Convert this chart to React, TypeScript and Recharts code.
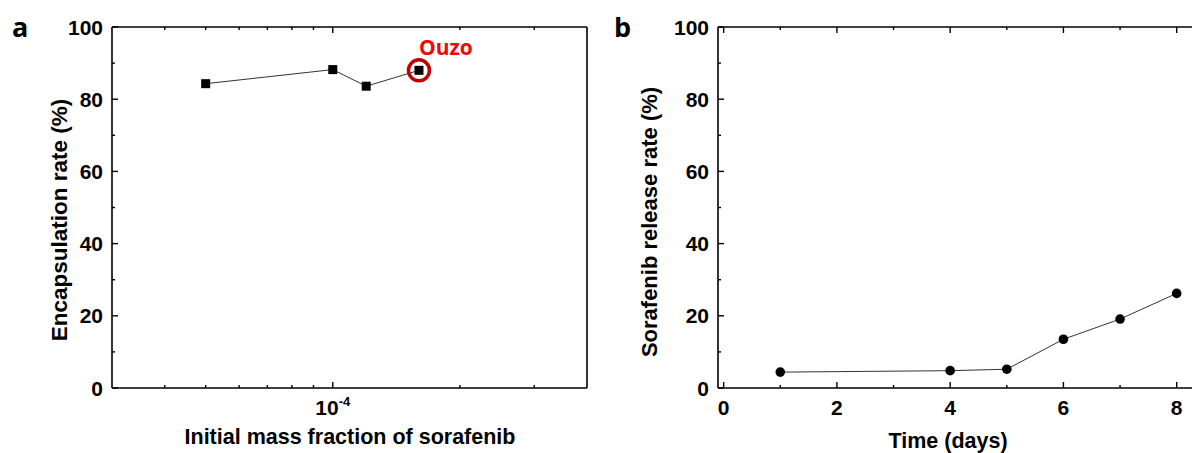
import React from "react";
import { LineChart, Line, XAxis, YAxis, ReferenceDot } from "recharts";

// panel a: encapsulation vs initial mass fraction (log x)
const massFraction = [5e-5, 1e-4, 1.2e-4, 1.6e-4];
const encapsulation = [84.3, 88.2, 83.6, 88.0];

// panel b: release over time
const days = [1, 4, 5, 6, 7, 8];
const release = [4.4, 4.8, 5.2, 13.5, 19.1, 26.2];

const massTicks = [4e-5, 5e-5, 6e-5, 7e-5, 8e-5, 9e-5, 1e-4, 2e-4, 3e-4];
const pctTicks = [0, 10, 20, 30, 40, 50, 60, 70, 80, 90, 100];
const dayTicks = [0, 1, 2, 3, 4, 5, 6, 7, 8];

const dataA = massFraction.map((x, i) => ({ x, y: encapsulation[i] }));
const dataB = days.map((x, i) => ({ x, y: release[i] }));

const FONT = "'Liberation Sans', Arial, sans-serif";
const AXIS = { stroke: "#000", strokeWidth: 1.6 };

type Side = "left" | "right" | "top" | "bottom";

function tickFn(side: Side, isMajor: (v: number) => boolean, label?: (v: number) => React.ReactNode) {
  return (props: any) => {
    const { x, y, payload } = props;
    const v = payload.value;
    const len = isMajor(v) ? 6 : 3;
    let line;
    if (side === "left") line = <line x1={x} x2={x + len} y1={y} y2={y} />;
    else if (side === "right") line = <line x1={x} x2={x - len} y1={y} y2={y} />;
    else if (side === "bottom") line = <line x1={x} x2={x} y1={y} y2={y - len} />;
    else line = <line x1={x} x2={x} y1={y} y2={y + len} />;
    let text: React.ReactNode = null;
    if (label && isMajor(v)) {
      if (side === "left")
        text = (
          <text x={x - 9} y={y + 7.5} textAnchor="end" fontSize={21} fontWeight="bold" fontFamily={FONT} fill="#000">
            {label(v)}
          </text>
        );
      else
        text = (
          <text x={x} y={y + 27} textAnchor="middle" fontSize={21} fontWeight="bold" fontFamily={FONT} fill="#000">
            {label(v)}
          </text>
        );
    }
    return (
      <g>
        <g stroke="#000" strokeWidth={1.4}>{line}</g>
        {text}
      </g>
    );
  };
}

const pctMajor = (v: number) => v % 20 === 0;
const massMajor = (v: number) => Math.abs(v - 1e-4) < 1e-9;
const dayMajor = (v: number) => v % 2 === 0;

const squareDot = (p: any) => (
  <rect key={`sq-${p.index}`} x={p.cx - 4.5} y={p.cy - 4.5} width={9} height={9} fill="#000" />
);

const ouzoShape = (p: any) => (
  <g>
    <circle cx={p.cx} cy={p.cy} r={10.5} fill="none" stroke="#C00000" strokeWidth={3.5} />
    <text x={p.cx} y={p.cy - 15} fontSize={21} fontWeight="bold" fontFamily="'Open Sans', sans-serif" fill="#FF0000">
      Ouzo
    </text>
  </g>
);

const bold = { fontFamily: FONT, fontWeight: "bold" as const, fill: "#000" };

const frameX = { height: 1, tickSize: 0, tickMargin: 0, tickLine: false, axisLine: AXIS, interval: 0 as const, allowDataOverflow: true };
const frameY = { width: 1, tickSize: 0, tickMargin: 0, tickLine: false, axisLine: AXIS, interval: 0 as const };

export default function App() {
  return (
    <div style={{ position: "absolute", left: 0, top: 0, width: 1192, height: 453, overflow: "hidden", background: "#fff" }}>
      <div style={{ position: "absolute", left: 0, top: 0 }}>
        <LineChart width={600} height={453} data={dataA} margin={{ top: 26, left: 111, right: 12, bottom: 64 }}>
          <XAxis
            {...frameX}
            dataKey="x"
            type="number"
            scale="log"
            domain={[3e-5, 4e-4]}
            ticks={massTicks}
            tick={tickFn("bottom", massMajor, () => (
              <>
                10<tspan dy={-9} fontSize={13}>-4</tspan>
              </>
            ))}
          />
          <XAxis
            {...frameX}
            xAxisId="top"
            orientation="top"
            dataKey="x"
            type="number"
            scale="log"
            domain={[3e-5, 4e-4]}
            ticks={massTicks}
            tick={tickFn("top", massMajor)}
          />
          <YAxis {...frameY} domain={[0, 100]} ticks={pctTicks} tick={tickFn("left", pctMajor, (v) => v)} />
          <YAxis
            {...frameY}
            yAxisId="right"
            orientation="right"
            domain={[0, 100]}
            ticks={pctTicks}
            tick={tickFn("right", pctMajor)}
          />
          <Line
            dataKey="y"
            stroke="#333"
            strokeWidth={1}
            dot={squareDot}
            activeDot={false}
            isAnimationActive={false}
          />
          <ReferenceDot x={massFraction[3]} y={encapsulation[3]} r={10} shape={ouzoShape} />
        </LineChart>
      </div>
      <div style={{ position: "absolute", left: 600, top: 0 }}>
        <LineChart width={610} height={453} data={dataB} margin={{ top: 26, left: 117, right: 5, bottom: 64 }}>
          <XAxis
            {...frameX}
            dataKey="x"
            type="number"
            domain={[-0.1, 8.5]}
            ticks={dayTicks}
            tick={tickFn("bottom", dayMajor, (v) => v)}
          />
          <XAxis
            {...frameX}
            xAxisId="top"
            orientation="top"
            dataKey="x"
            type="number"
            domain={[-0.1, 8.5]}
            ticks={dayTicks}
            tick={tickFn("top", dayMajor)}
          />
          <YAxis {...frameY} domain={[0, 100]} ticks={pctTicks} tick={tickFn("left", pctMajor, (v) => v)} />
          <Line
            dataKey="y"
            stroke="#333"
            strokeWidth={1}
            dot={{ r: 4.8, fill: "#000", stroke: "#000", strokeWidth: 0 }}
            activeDot={false}
            isAnimationActive={false}
          />
        </LineChart>
      </div>
      <svg width={1192} height={453} style={{ position: "absolute", left: 0, top: 0, pointerEvents: "none" }}>
        <text x={12} y={37} fontSize={27} fontWeight="bold" fontFamily="'Open Sans', sans-serif">a</text>
        <text x={614} y={37} fontSize={27} fontWeight="bold" fontFamily="'Open Sans', sans-serif">b</text>
        <text transform="translate(67,220) rotate(-90)" textAnchor="middle" fontSize={22.5} {...bold}>
          Encapsulation rate (%)
        </text>
        <text x={350} y={444} textAnchor="middle" fontSize={21.5} {...bold}>
          Initial mass fraction of sorafenib
        </text>
        <text transform="translate(657,222) rotate(-90)" textAnchor="middle" fontSize={22} {...bold}>
          Sorafenib release rate (%)
        </text>
        <text x={948} y={448} textAnchor="middle" fontSize={21.5} {...bold}>
          Time (days)
        </text>
      </svg>
    </div>
  );
}
